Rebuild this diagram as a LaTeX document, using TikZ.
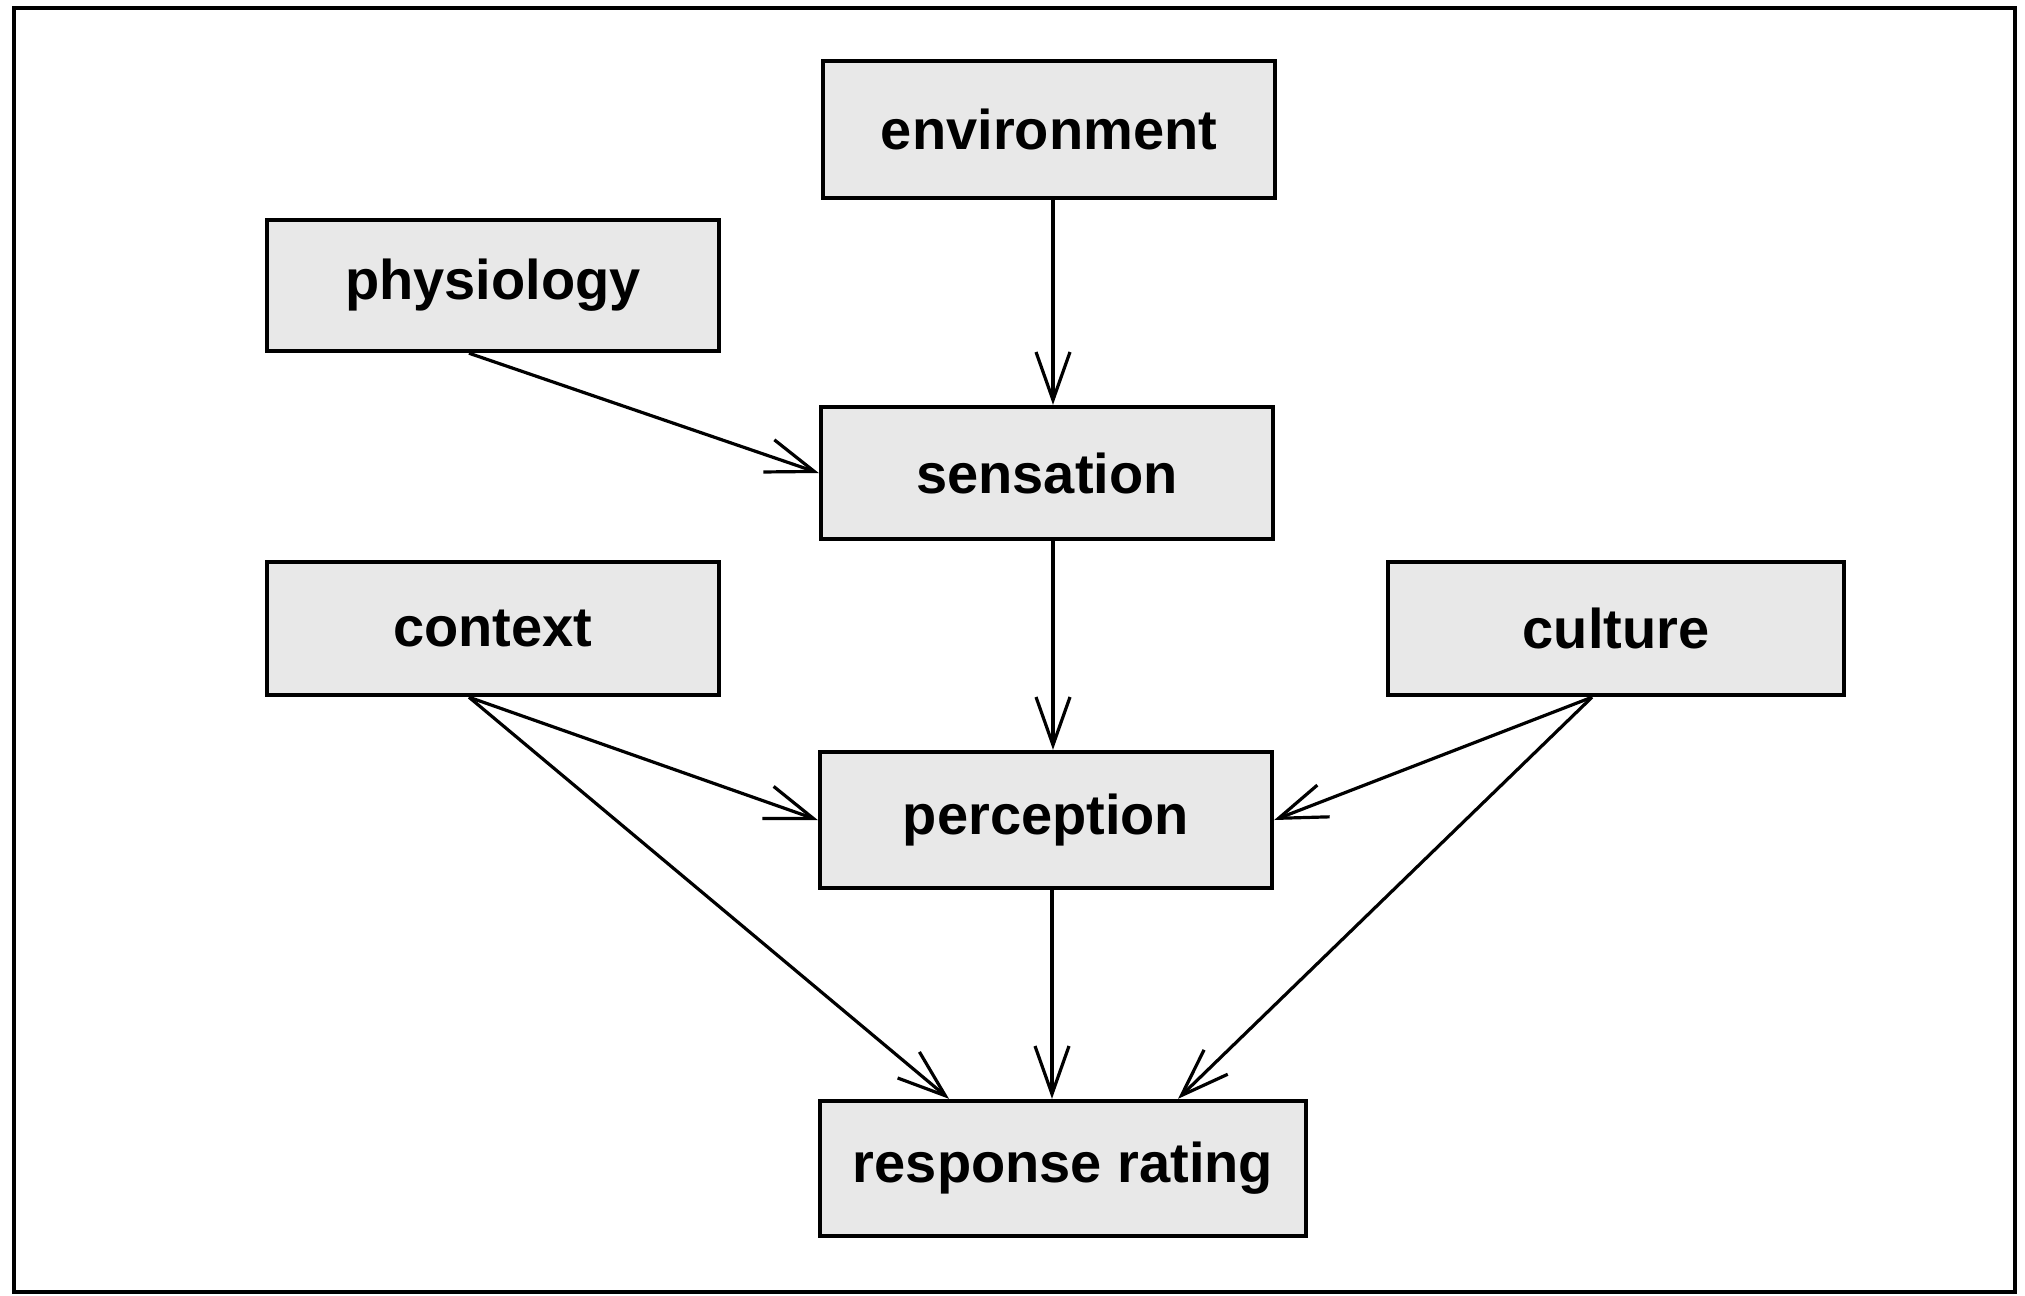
\documentclass[tikz,border=0pt]{standalone}
\usepackage{fontspec}
\setmainfont{Liberation Sans}
\usetikzlibrary{arrows.meta,calc}
\begin{document}
\begin{tikzpicture}[x=0.5pt,y=-0.5pt,
  box/.style={draw=black, line width=2.2pt, fill=black!9, inner sep=0pt,
    font=\fontsize{28}{32}\selectfont\bfseries},
  conn/.style={line width=1.6pt, -{Straight Barb[length=24pt,width=17pt,line width=1.6pt]}},
  frame/.style={draw=black, line width=2.2pt}
]
\useasboundingbox (0,0) rectangle (2025,1296);
\draw[frame] (14,8) rectangle (2015,1292);

\node[box, minimum width=226pt, minimum height=68.5pt] (env)  at (1049,129.5) {environment};
\node[box, minimum width=226pt, minimum height=65.5pt] (phys) at (493,285.5)  {physiology};
\node[box, minimum width=226pt, minimum height=66pt]   (sens) at (1047,473)   {sensation};
\node[box, minimum width=226pt, minimum height=66.5pt] (ctx)  at (493,628.5)  {context};
\node[box, minimum width=228pt, minimum height=66.5pt] (cult) at (1616,628.5) {culture};
\node[box, minimum width=226pt, minimum height=68pt]   (perc) at (1046,820)   {perception};
\node[box, minimum width=243pt, minimum height=67.5pt] (resp) at (1063,1168.5) {response rating};

\coordinate (physout) at ($(phys.south)+(-12pt,0)$);
\coordinate (ctxout)  at ($(ctx.south)+(-12pt,0)$);
\coordinate (cultout) at ($(cult.south)+(-12pt,0)$);
\coordinate (respL)   at ($(resp.north)+(-57pt,0)$);
\coordinate (respR)   at ($(resp.north)+(57.5pt,0)$);
\coordinate (envout)  at ($(env.south)+(2pt,0)$);
\coordinate (sensout) at ($(sens.south)+(3pt,0)$);
\coordinate (percout) at ($(perc.south)+(3pt,0)$);

\draw[conn] (envout) -- (envout |- sens.north);
\draw[conn] (physout) -- (sens.west);
\draw[conn] (sensout) -- (sensout |- perc.north);
\draw[conn] (ctxout) -- (perc.west);
\draw[conn] (ctxout) -- (respL);
\draw[conn] (cultout) -- (perc.east);
\draw[conn] (cultout) -- (respR);
\draw[conn] (percout) -- (percout |- resp.north);
\end{tikzpicture}
\end{document}
